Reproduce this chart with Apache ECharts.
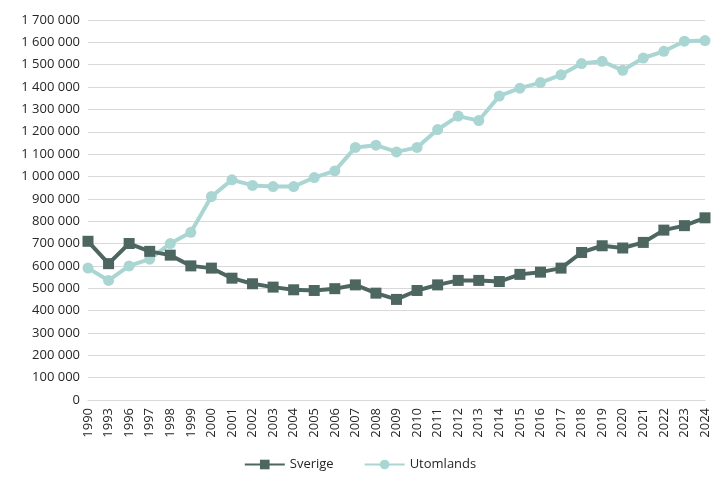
<!DOCTYPE html>
<html><head><meta charset="utf-8">
<script src="https://cdn.jsdelivr.net/npm/echarts@6/dist/echarts.min.js"></script>
<style>html,body{margin:0;padding:0;background:#fff}#c{width:720px;height:490px}</style>
</head><body><div id="c"></div>
<script>
const years=['1990','1993','1996','1997','1998','1999','2000','2001','2002','2003','2004','2005','2006','2007','2008','2009','2010','2011','2012','2013','2014','2015','2016','2017','2018','2019','2020','2021','2022','2023','2024'];
const sverige=[710000,610000,700000,665000,648000,600000,590000,545000,520000,505000,493000,490000,498000,515000,478000,450000,490000,515000,535000,535000,530000,562000,572000,590000,660000,690000,680000,705000,760000,780000,815000];
const utomlands=[590000,535000,600000,630000,700000,750000,910000,985000,960000,955000,955000,995000,1025000,1130000,1140000,1110000,1130000,1210000,1270000,1250000,1360000,1395000,1420000,1455000,1505000,1515000,1475000,1530000,1560000,1605000,1608000];
const fmt=v=>String(v).replace(/\B(?=(\d{3})+(?!\d))/g,' ');
const font='Open Sans';
const chart=echarts.init(document.getElementById('c'));
chart.setOption({
  animation:false,
  textStyle:{fontFamily:font},
  grid:{left:88,right:15,top:20,bottom:90,containLabel:false},
  legend:{bottom:14,itemGap:30,itemWidth:40,itemHeight:12,textStyle:{fontSize:13,color:'#262626',fontFamily:font},data:['Sverige','Utomlands']},
  xAxis:{type:'category',data:years,boundaryGap:false,axisTick:{show:false},axisLine:{lineStyle:{color:'#d9d9d9'}},
    axisLabel:{rotate:90,color:'#262626',fontSize:13,interval:0,fontFamily:font}},
  yAxis:{type:'value',min:0,max:1700000,interval:100000,axisLabel:{formatter:fmt,color:'#262626',fontSize:13,fontFamily:font},
    splitLine:{lineStyle:{color:'#d9d9d9'}}},
  series:[
    {name:'Sverige',type:'line',data:sverige,symbol:'rect',symbolSize:11,lineStyle:{width:4,color:'#4d6660'},itemStyle:{color:'#4d6660'},z:3},
    {name:'Utomlands',type:'line',data:utomlands,symbol:'circle',symbolSize:11,lineStyle:{width:4,color:'#a9d6d3'},itemStyle:{color:'#a9d6d3'},z:2}
  ]
});
</script></body></html>
